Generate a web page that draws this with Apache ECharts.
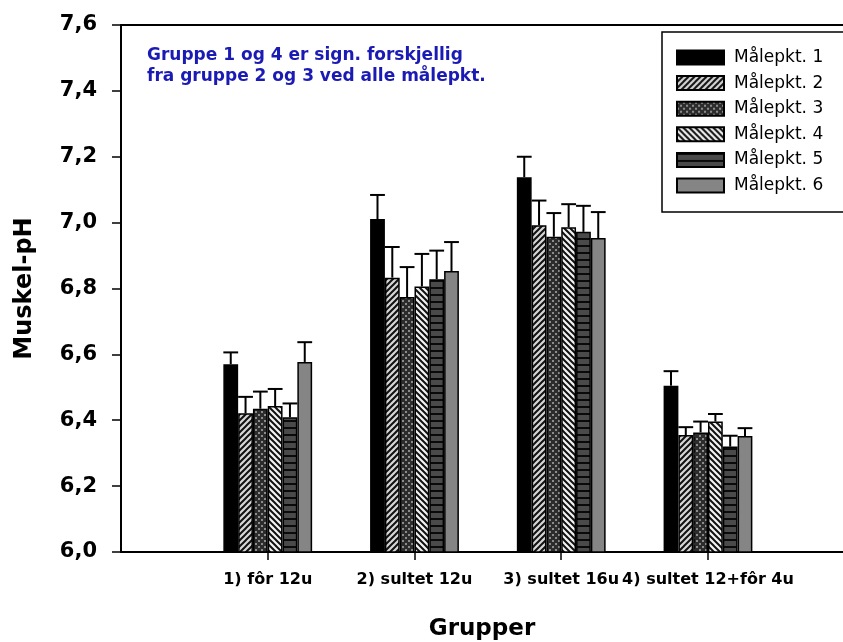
<!DOCTYPE html>
<html>
<head>
<meta charset="utf-8">
<script src="https://cdn.jsdelivr.net/npm/echarts@6/dist/echarts.min.js"></script>
<style>html,body{margin:0;padding:0;background:#fff}#c{width:843px;height:642px}</style>
</head>
<body>
<div id="c"></div>
<script>
// ---- data ----
const categories = ['1) fôr 12u', '2) sultet 12u', '3) sultet 16u', '4) sultet 12+fôr 4u'];
const seriesNames = ['Målepkt. 1', 'Målepkt. 2', 'Målepkt. 3', 'Målepkt. 4', 'Målepkt. 5', 'Målepkt. 6'];
const mp1 = [6.570, 7.011, 7.138, 6.505];
const mp2 = [6.421, 6.833, 6.992, 6.355];
const mp3 = [6.435, 6.774, 6.957, 6.363];
const mp4 = [6.443, 6.806, 6.986, 6.396];
const mp5 = [6.409, 6.828, 6.972, 6.320];
const mp6 = [6.577, 6.853, 6.953, 6.352];
const err1 = [0.036, 0.073, 0.062, 0.044];
const err2 = [0.050, 0.093, 0.075, 0.024];
const err3 = [0.052, 0.091, 0.072, 0.033];
const err4 = [0.052, 0.099, 0.070, 0.023];
const err5 = [0.042, 0.087, 0.079, 0.033];
const err6 = [0.060, 0.088, 0.079, 0.024];
const yTicks = [6.0, 6.2, 6.4, 6.6, 6.8, 7.0, 7.2, 7.4, 7.6];
const noteLines = ['Gruppe 1 og 4 er sign. forskjellig', 'fra gruppe 2 og 3 ved alle målepkt.'];

const values = [mp1, mp2, mp3, mp4, mp5, mp6];
const errors = [err1, err2, err3, err4, err5, err6];

// ---- fill patterns ----
function pat(w, h, draw) {
  const c = document.createElement('canvas');
  c.width = w; c.height = h;
  const g = c.getContext('2d');
  draw(g, w, h);
  return { image: c, repeat: 'repeat' };
}
const fills = [
  '#000000',
  pat(6, 6, (g, w, h) => {
    g.fillStyle = '#d6d6d6'; g.fillRect(0, 0, w, h);
    g.strokeStyle = '#111'; g.lineWidth = 2;
    g.beginPath();
    g.moveTo(-1, h + 1); g.lineTo(w + 1, -1);
    g.moveTo(-1, 1); g.lineTo(1, -1);
    g.moveTo(w - 1, h + 1); g.lineTo(w + 1, h - 1);
    g.stroke();
  }),
  pat(6, 6, (g, w, h) => {
    g.fillStyle = '#2c2c2c'; g.fillRect(0, 0, w, h);
    g.fillStyle = '#8c8c8c';
    g.fillRect(0, 0, 2, 2); g.fillRect(3, 3, 2, 2);
  }),
  pat(6, 6, (g, w, h) => {
    g.fillStyle = '#f2f2f2'; g.fillRect(0, 0, w, h);
    g.strokeStyle = '#111'; g.lineWidth = 2;
    g.beginPath();
    g.moveTo(-1, -1); g.lineTo(w + 1, h + 1);
    g.moveTo(w - 1, -1); g.lineTo(w + 1, 1);
    g.moveTo(-1, h - 1); g.lineTo(1, h + 1);
    g.stroke();
  }),
  pat(4, 7, (g, w, h) => {
    g.fillStyle = '#4a4a4a'; g.fillRect(0, 0, w, h);
    g.fillStyle = '#0a0a0a'; g.fillRect(0, 0, w, 2);
  }),
  '#858585'
];

const BW = 14.8;
const FONT = '"DejaVu Sans", sans-serif';

const barSeries = seriesNames.map((name, i) => ({
  name: name,
  type: 'bar',
  barWidth: BW,
  barGap: '0%',
  itemStyle: { color: fills[i], borderColor: '#000', borderWidth: 1.5 },
  data: values[i].map((v, k) => [k + 1, v]),
  z: 2
}));

const errData = [];
values.forEach((arr, i) => arr.forEach((v, k) => errData.push([k + 1, i, v, errors[i][k]])));

const errSeries = {
  type: 'custom',
  name: 'err',
  z: 5,
  data: errData,
  encode: { x: 0, y: 2 },
  renderItem: function (params, api) {
    const x = api.value(0), i = api.value(1), v = api.value(2), e = api.value(3);
    const p = api.coord([x, v]);
    const t = api.coord([x, v + e]);
    const cx = p[0] + (i - 2.5) * BW;
    const half = BW / 2;
    return {
      type: 'group',
      children: [
        { type: 'line', shape: { x1: cx, y1: p[1], x2: cx, y2: t[1] }, style: { stroke: '#000', lineWidth: 2 } },
        { type: 'line', shape: { x1: cx - half, y1: t[1], x2: cx + half, y2: t[1] }, style: { stroke: '#000', lineWidth: 2 } }
      ]
    };
  }
};

const chart = echarts.init(document.getElementById('c'), null, { renderer: 'canvas' });
chart.setOption({
  animation: false,
  backgroundColor: '#fff',
  grid: { left: 121, right: 0, top: 25, bottom: 90, containLabel: false, outerBoundsMode: 'none' },
  legend: {
    data: seriesNames,
    orient: 'vertical',
    left: 662,
    top: 32,
    padding: [17, 40, 18, 14],
    itemWidth: 47,
    itemHeight: 14,
    itemGap: 8.6,
    icon: 'rect',
    selectedMode: false,
    borderColor: '#000',
    borderWidth: 1.5,
    backgroundColor: '#fff',
    textStyle: { fontFamily: FONT, fontSize: 17, color: '#000', padding: [0, 0, 0, 5] }
  },
  xAxis: [{
    type: 'value',
    min: 0,
    max: 4.92,
    interval: 1,
    splitLine: { show: false },
    axisLine: { show: true, lineStyle: { color: '#000', width: 2 } },
    axisTick: { show: true, length: 8, lineStyle: { color: '#000', width: 1.5 }, customValues: [1, 2, 3, 4] },
    axisLabel: {
      customValues: [1, 2, 3, 4],
      formatter: v => categories[Math.round(v) - 1] || '',
      margin: 20,
      fontFamily: FONT, fontWeight: 'bold', fontSize: 16, color: '#000'
    },
    name: 'Grupper',
    nameLocation: 'middle',
    nameGap: 66,
    nameTextStyle: { fontFamily: FONT, fontWeight: 'bold', fontSize: 23, color: '#000' }
  }, {
    type: 'value',
    position: 'top',
    min: 0,
    max: 4.92,
    splitLine: { show: false },
    axisLine: { show: true, lineStyle: { color: '#000', width: 2 } },
    axisTick: { show: false },
    axisLabel: { show: false }
  }],
  yAxis: {
    type: 'value',
    min: 6.0,
    max: 7.6,
    interval: 0.2,
    splitLine: { show: false },
    axisLine: { show: true, lineStyle: { color: '#000', width: 2 } },
    axisTick: { show: true, inside: false, length: 9, lineStyle: { color: '#000', width: 1.5 } },
    axisLabel: {
      formatter: v => {
        const t = yTicks.find(y => Math.abs(y - v) < 1e-6);
        return (t !== undefined ? t : v).toFixed(1).replace('.', ',');
      },
      margin: 24,
      fontFamily: FONT, fontWeight: 'bold', fontSize: 21, color: '#000'
    },
    name: 'Muskel-pH',
    nameLocation: 'middle',
    nameRotate: 90,
    nameGap: 84,
    nameTextStyle: { fontFamily: FONT, fontWeight: 'bold', fontSize: 24, color: '#000' }
  },
  graphic: [{
    type: 'text',
    left: 147,
    top: 45,
    z: 10,
    style: {
      text: noteLines.join('\n'),
      fontFamily: FONT,
      fontWeight: 'bold',
      fontSize: 17,
      lineHeight: 21,
      fill: '#1a1ab4'
    }
  }],
  series: barSeries.concat([errSeries])
});
</script>
</body>
</html>
